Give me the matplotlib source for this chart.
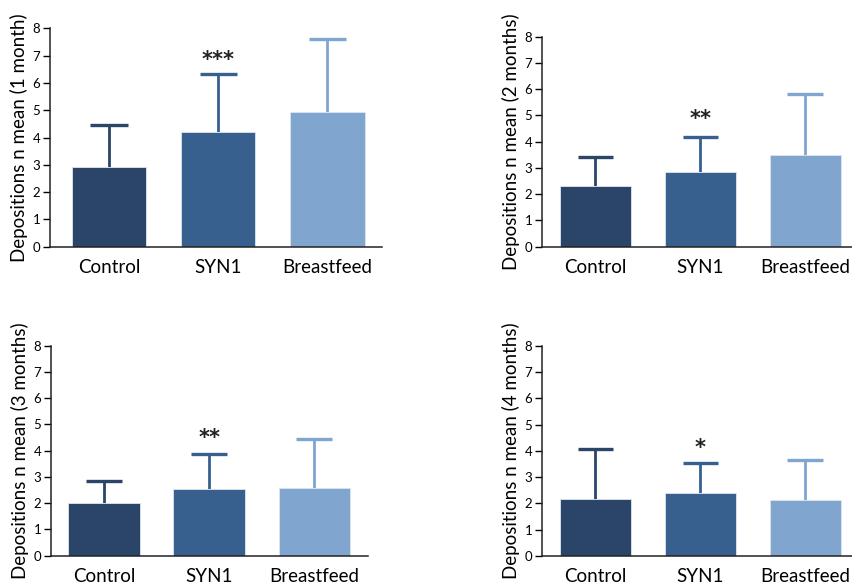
import numpy as np
import matplotlib.pyplot as plt

plt.rcParams['font.family'] = ['Lato', 'DejaVu Sans']

groups = ["Control", "SYN1", "Breastfeed"]
colors = ["#2a4568", "#37608f", "#80a5cf"]

# mean values and upper error ends
means_1m = [2.93, 4.21, 4.94]
tops_1m = [4.46, 6.32, 7.62]
means_2m = [2.32, 2.86, 3.49]
tops_2m = [3.43, 4.19, 5.80]
means_3m = [2.00, 2.55, 2.58]
tops_3m = [2.86, 3.87, 4.44]
means_4m = [2.17, 2.41, 2.14]
tops_4m = [4.07, 3.54, 3.65]

ylabels = [
    "Depositions n mean (1 month)",
    "Depositions n mean (2 months)",
    "Depositions n mean (3 months)",
    "Depositions n mean (4 months)",
]
stars = ["***", "**", "**", "*"]
star_y = [6.85, 4.85, 4.47, 4.12]

panels = [
    (means_1m, tops_1m, [0.0586, 0.5776, 0.3892, 0.3739], (-0.54, 2.5)),
    (means_2m, tops_2m, [0.6354, 0.5776, 0.3640, 0.3596], (-0.51, 2.45)),
    (means_3m, tops_3m, [0.0598, 0.0485, 0.3716, 0.3595], (-0.505, 2.51)),
    (means_4m, tops_4m, [0.6354, 0.0480, 0.3640, 0.3600], (-0.51, 2.45)),
]

fig = plt.figure(figsize=(8.53, 5.84), dpi=100)

for i, (means, tops, rect, xlim) in enumerate(panels):
    ax = fig.add_axes(rect)
    x = np.arange(len(groups))
    ax.bar(x, means, width=0.68, color=colors, edgecolor="#dde6f0", linewidth=0.6, zorder=2)
    # only the upper half of each error bar, with a cap
    for xi, m, t, c in zip(x, means, tops, colors):
        ax.plot([xi, xi], [m, t], color=c, lw=2, zorder=1, solid_capstyle="butt")
        ax.plot([xi - 0.17, xi + 0.17], [t, t], color=c, lw=2.4, solid_capstyle="butt")
    ax.text(1, star_y[i], stars[i], ha="center", va="center", fontsize=15,
            family="DejaVu Sans", fontweight="bold", color="#222222")

    ax.set_xlim(*xlim)
    ax.set_ylim(0, 8)
    ax.set_yticks(range(0, 9))
    ax.set_xticks(x)
    ax.set_xticklabels(groups, fontsize=13.5)
    ax.tick_params(axis="x", length=0, pad=9)
    ax.tick_params(axis="y", length=5, width=1, labelsize=9.5, pad=2, direction="out")
    ax.set_ylabel(ylabels[i], fontsize=13.5, labelpad=3)
    for side in ["top", "right"]:
        ax.spines[side].set_visible(False)
    for side in ["left", "bottom"]:
        ax.spines[side].set_linewidth(1.1)
        ax.spines[side].set_color("#222222")

fig.savefig("out.png", dpi=100)
